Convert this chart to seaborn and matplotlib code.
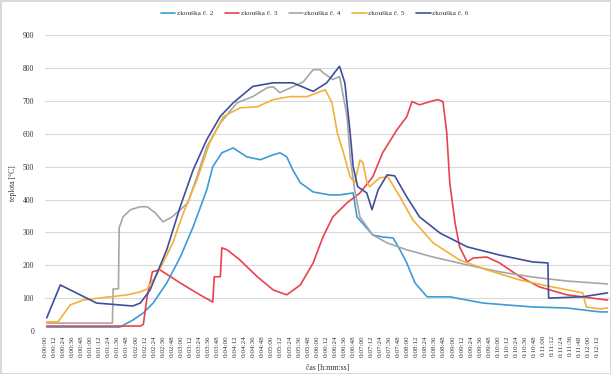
import pandas as pd
import matplotlib
matplotlib.use('Agg')
import matplotlib.pyplot as plt
import seaborn as sns

# time in seconds, temperature in deg C
t2 = [2, 99, 116, 130, 143, 161, 179, 196, 214, 222, 234, 249, 267, 285, 302, 311, 320, 328, 338,
      355, 377, 390, 408, 413, 420, 434, 447, 461, 470, 479, 490, 506, 536, 580, 646, 691, 735, 745]
v2 = [12, 12, 33, 55, 85, 146, 225, 317, 429, 500, 542, 557, 530, 521, 536, 542, 530, 490, 451,
      423, 414, 414, 420, 347, 329, 292, 286, 283, 247, 207, 146, 104, 104, 85, 73, 70, 58, 58]

t3 = [2, 126, 130, 135, 142, 152, 179, 205, 222, 224, 232, 234, 241, 258, 281, 302, 320, 338, 355,
      368, 381, 400, 417, 434, 447, 466, 479, 486, 496, 510, 520, 527, 532, 536, 543, 549, 559, 567,
      585, 602, 629, 655, 691, 745]
v3 = [15, 15, 20, 104, 180, 186, 146, 110, 88, 165, 165, 253, 247, 216, 165, 125, 110, 140, 207,
      286, 347, 390, 420, 469, 542, 612, 652, 698, 688, 698, 704, 698, 603, 451, 329, 256, 210, 222,
      225, 207, 165, 134, 110, 94]

t4 = [2, 89, 90, 97, 98, 103, 113, 126, 135, 146, 156, 168, 179, 189, 201, 214, 232, 254, 275, 294,
      302, 311, 328, 342, 355, 364, 368, 381, 390, 400, 404, 410, 417, 434, 453, 479, 514, 559, 602,
      646, 691, 745]
v4 = [24, 24, 128, 128, 314, 347, 369, 378, 378, 359, 332, 347, 369, 390, 469, 560, 633, 694, 713, 740,
      743, 725, 743, 758, 795, 795, 786, 765, 774, 652, 530, 429, 347, 292, 268, 247, 225, 201, 180,
      164, 152, 143]

t5 = [2, 17, 33, 50, 82, 109, 126, 135, 146, 156, 169, 183, 201, 218, 236, 258, 281, 302, 324, 347,
      371, 380, 387, 394, 404, 410, 417, 421, 426, 430, 443, 454, 470, 487, 514, 549, 585, 629, 672,
      712, 717, 735, 745]
v5 = [28, 28, 79, 94, 103, 110, 119, 128, 165, 207, 268, 359, 460, 573, 652, 679, 682, 704, 713, 713,
      734, 694, 603, 551, 469, 451, 520, 512, 454, 439, 466, 469, 408, 338, 268, 216, 186, 155, 134,
      116, 73, 67, 70]

t6 = [2, 20, 68, 116, 126, 139, 161, 179, 196, 214, 232, 249, 275, 302, 328, 355, 373, 388, 390, 397,
      404, 408, 414, 426, 433, 441, 453, 463, 479, 496, 523, 559, 602, 646, 666, 667, 712, 745]
v6 = [40, 140, 85, 76, 85, 125, 247, 379, 490, 582, 653, 694, 744, 755, 755, 729, 755, 800, 805, 755,
      603, 500, 439, 420, 369, 429, 475, 472, 408, 347, 298, 256, 231, 210, 207, 100, 104, 116]

names = ['zkouška č. 2', 'zkouška č. 3', 'zkouška č. 4', 'zkouška č. 5', 'zkouška č. 6']
colors = ['#3d9bd6', '#e8434f', '#a6a6a6', '#f2b13a', '#3f4f9e']

tick_labels = ['0:00:00', '0:00:12', '0:00:24', '0:00:36', '0:00:48', '0:01:00', '0:01:12', '0:01:24',
               '0:01:36', '0:01:48', '0:02:00', '0:02:12', '0:02:24', '0:02:36', '0:02:48', '0:03:00',
               '0:03:12', '0:03:24', '0:03:36', '0:03:48', '0:04:00', '0:04:12', '0:04:24', '0:04:36',
               '0:04:48', '0:05:00', '0:05:12', '0:05:24', '0:05:36', '0:05:48', '0:06:00', '0:06:12',
               '0:06:24', '0:06:36', '0:06:48', '0:07:00', '0:07:12', '0:07:24', '0:07:36', '0:07:48',
               '0:08:00', '0:08:12', '0:08:24', '0:08:36', '0:08:48', '0:09:00', '0:09:12', '0:09:24',
               '0:09:36', '0:09:48', '0:10:00', '0:10:12', '0:10:24', '0:10:36', '0:10:48', '0:11:00',
               '0:11:12', '0:11:24', '0:11:36', '0:11:48', '0:12:00', '0:12:12']

# long format table for seaborn
frames = []
for name, t, v in zip(names, [t2, t3, t4, t5, t6], [v2, v3, v4, v5, v6]):
    frames.append(pd.DataFrame({'cas': t, 'teplota': v, 'serie': name}))
df = pd.concat(frames, ignore_index=True)

sns.set_style('white')
plt.rcParams['font.family'] = ['Liberation Serif', 'DejaVu Serif']

fig = plt.figure(figsize=(6.11, 3.74), dpi=100)
fig.patch.set_edgecolor('#d9d9d9')
fig.patch.set_linewidth(1.0)
ax = fig.add_axes([0.074, 0.115, 0.924, 0.791])

sns.lineplot(data=df, x='cas', y='teplota', hue='serie', hue_order=names,
             palette=dict(zip(names, colors)), linewidth=1.2, estimator=None,
             sort=False, ax=ax, legend=False)

ax.set_xlim(0, 748)
ax.set_ylim(0, 900)
ax.set_yticks(range(0, 901, 100))
ax.set_xticks(range(0, 12 * len(tick_labels), 12))
ax.set_xticklabels(tick_labels, rotation=90, fontsize=5, color='#333333')
ax.tick_params(axis='y', labelsize=5.5, labelcolor='#333333', length=0, pad=8)
ax.tick_params(axis='x', length=0, pad=3)
ax.yaxis.grid(True, color='#d9d9d9', linewidth=0.8)
ax.set_axisbelow(True)
for s in ['top', 'right', 'left', 'bottom']:
    ax.spines[s].set_visible(False)

ax.set_xlabel('čas [h:mm:ss]', fontsize=5.5, color='#333333', labelpad=5)
ax.set_ylabel('teplota [°C]', fontsize=5.5, color='#333333', labelpad=4)

handles = [plt.Line2D([], [], color=c, linewidth=1.2) for c in colors]
fig.legend(handles, names, loc='upper center', bbox_to_anchor=(0.515, 0.99), ncol=5,
           frameon=False, fontsize=5.2, handlelength=2.0, columnspacing=1.6, handletextpad=0.2,
           labelcolor='#333333')

plt.savefig('out.png', dpi=100, edgecolor=fig.get_edgecolor())
plt.close()
